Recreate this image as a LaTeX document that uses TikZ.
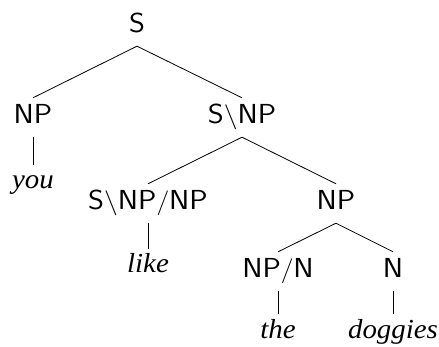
\documentclass[tikz,border=0pt]{standalone}
\usepackage{fontspec}
\usepackage{graphicx}
\newfontfamily\wordfont{Liberation Serif}
\newcommand{\bsl}{$\backslash$}
\newcommand{\fsl}{$/$}
\newcommand{\cattext}[1]{\scalebox{1.11}[1]{#1}}
\newcommand{\wordtext}[1]{\scalebox{1.05}[1]{#1}}
\begin{document}
\begin{tikzpicture}[x=1pt,y=-1pt,
  cat/.style={anchor=base,inner sep=6pt,text height=20pt,text depth=7pt,font=\sffamily\fontsize{27.5}{32}\selectfont},
  word/.style={anchor=base,inner sep=5pt,text height=19pt,text depth=6pt,font=\wordfont\itshape\fontsize{27.5}{32}\selectfont},
  edge/.style={draw=black,line width=0.8pt}]
\useasboundingbox (0,0) rectangle (439,347);
\node[cat] (S) at (137,33) {\cattext{S}};
\node[cat] (NPa) at (33,124) {\cattext{NP}};
\node[cat] (SNP) at (242,124) {\cattext{S\bsl NP}};
\node[word] (you) at (33,189) {\wordtext{you}};
\node[cat] (SNPNP) at (148,210) {\cattext{S\bsl NP\fsl NP}};
\node[cat] (NPb) at (336,210) {\cattext{NP}};
\node[word] (like) at (148,273) {\wordtext{like}};
\node[cat] (NPN) at (278,278) {\cattext{NP\fsl N}};
\node[cat] (N) at (393,278) {\cattext{N}};
\node[word] (the) at (278,338) {\wordtext{the}};
\node[word] (doggies) at (393,338) {\wordtext{doggies}};
\draw[edge] (S.south) -- (NPa.north);
\draw[edge] (S.south) -- (SNP.north);
\draw[edge] (NPa.south) -- (you.north);
\draw[edge] (SNP.south) -- (SNPNP.north);
\draw[edge] (SNP.south) -- (NPb.north);
\draw[edge] (SNPNP.south) -- (like.north);
\draw[edge] (NPb.south) -- (NPN.north);
\draw[edge] (NPb.south) -- (N.north);
\draw[edge] (NPN.south) -- (the.north);
\draw[edge] (N.south) -- (doggies.north);
\end{tikzpicture}
\end{document}
